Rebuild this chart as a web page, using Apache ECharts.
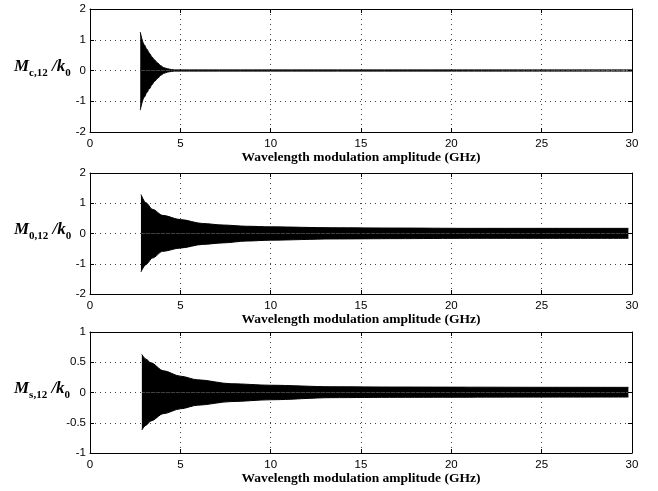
<!DOCTYPE html>
<html>
<head>
<meta charset="utf-8">
<script src="https://cdn.jsdelivr.net/npm/echarts@6/dist/echarts.min.js"></script>
<style>html,body{margin:0;padding:0;background:#fff}#c{width:658px;height:491px}</style>
</head>
<body>
<div id="c"></div>
<script>
// Envelope of the (densely oscillating) signals
const x1 = [2.78, 3.0, 3.14, 3.28, 3.42, 3.56, 3.75, 3.93, 4.1, 4.3, 4.5, 4.67, 5.5, 10, 20, 30];
const up1 = [1.25, 0.84, 0.70, 0.57, 0.45, 0.35, 0.24, 0.15, 0.09, 0.055, 0.03, 0.02, 0.02, 0.02, 0.02, 0.02];
const lo1 = [-1.29, -0.87, -0.72, -0.60, -0.47, -0.36, -0.25, -0.15, -0.09, -0.05, -0.03, -0.02, -0.02, -0.02, -0.02, -0.02];

const x2 = [2.82, 3.09, 3.46, 4.02, 5.0, 6.24, 7.36, 8.65, 10, 13.4, 17, 21, 25, 29.8];
const up2 = [1.29, 1.02, 0.80, 0.60, 0.46, 0.33, 0.28, 0.24, 0.22, 0.19, 0.18, 0.17, 0.17, 0.17];
const lo2 = [-1.27, -1.03, -0.81, -0.59, -0.48, -0.36, -0.31, -0.25, -0.22, -0.18, -0.17, -0.16, -0.16, -0.16];

const x3 = [2.87, 3.1, 3.37, 4.06, 5.0, 5.95, 7.8, 10, 13.4, 17, 21, 25, 29.8];
const up3 = [0.63, 0.55, 0.49, 0.36, 0.27, 0.21, 0.145, 0.12, 0.095, 0.09, 0.088, 0.086, 0.085];
const lo3 = [-0.62, -0.54, -0.47, -0.35, -0.27, -0.21, -0.15, -0.12, -0.085, -0.08, -0.078, -0.076, -0.075];

const xTicks = [0, 5, 10, 15, 20, 25, 30];
const yRanges = [[-2, 2, 1], [-2, 2, 1], [-1, 1, 0.5]];
const xTitle = 'Wavelength modulation amplitude (GHz)';
const yNames = [['M', 'c,12'], ['M', '0,12'], ['M', 's,12']];

const panels = [[x1, up1, lo1], [x2, up2, lo2], [x3, up3, lo3]];
const grids = [
  {left: 90, top: 9, width: 542, height: 123},
  {left: 90, top: 173, width: 542, height: 121},
  {left: 90, top: 332, width: 542, height: 121}
];

const gridLine = {show: true, lineStyle: {color: '#444', width: 1, type: [1, 4]}};
const labelFont = {color: '#000', fontFamily: 'Liberation Sans', fontSize: 11.5};

const xAxis = [], yAxis = [], series = [], graphic = [];
grids.forEach((g, i) => {
  xAxis.push({
    type: 'value', gridIndex: i, min: xTicks[0], max: xTicks[xTicks.length - 1], interval: 5,
    axisLine: {onZero: false, lineStyle: {color: '#000', width: 1}},
    axisTick: {inside: true, length: 4, lineStyle: {color: '#000'}},
    axisLabel: Object.assign({margin: 6}, labelFont),
    splitLine: gridLine,
    name: xTitle, nameLocation: 'middle', nameGap: 18,
    nameTextStyle: {fontFamily: 'Liberation Serif', fontWeight: 'bold', fontSize: 13.5, color: '#000', verticalAlign: 'top'}
  });
  xAxis.push({
    type: 'value', gridIndex: i, position: 'top', min: xTicks[0], max: xTicks[xTicks.length - 1], interval: 5,
    axisLine: {onZero: false, lineStyle: {color: '#000', width: 1}},
    axisTick: {inside: true, length: 4, lineStyle: {color: '#000'}},
    axisLabel: {show: false}, splitLine: {show: false}
  });
  const r = yRanges[i];
  yAxis.push({
    type: 'value', gridIndex: i, min: r[0], max: r[1], interval: r[2],
    axisLine: {onZero: false, lineStyle: {color: '#000', width: 1}},
    axisTick: {inside: true, length: 4, lineStyle: {color: '#000'}},
    axisLabel: Object.assign({margin: 4}, labelFont),
    splitLine: gridLine
  });
  yAxis.push({
    type: 'value', gridIndex: i, position: 'right', min: r[0], max: r[1], interval: r[2],
    axisLine: {onZero: false, lineStyle: {color: '#000', width: 1}},
    axisTick: {inside: true, length: 4, lineStyle: {color: '#000'}},
    axisLabel: {show: false}, splitLine: {show: false}
  });
  const [xs, up, lo] = panels[i];
  [up, lo].forEach(arr => {
    series.push({
      type: 'line', xAxisIndex: 2 * i, yAxisIndex: 2 * i,
      data: xs.map((x, k) => [x, arr[k]]),
      showSymbol: false, smooth: 0.3, smoothMonotone: 'x',
      lineStyle: {color: '#000', width: 1},
      areaStyle: {color: '#000', opacity: 1},
      silent: true, animation: false
    });
  });
  graphic.push({
    type: 'text', left: 14, top: g.top + g.height / 2 - 12,
    style: {
      text: '{m|' + yNames[i][0] + '}{s|' + yNames[i][1] + '}{m| /k}{s|0}',
      rich: {
        m: {fontFamily: 'Liberation Serif', fontStyle: 'italic', fontWeight: 'bold', fontSize: 17, lineHeight: 23, fill: '#000'},
        s: {fontFamily: 'Liberation Serif', fontWeight: 'bold', fontSize: 11, lineHeight: 15, verticalAlign: 'bottom', fill: '#000'}
      }
    }
  });
});

const chart = echarts.init(document.getElementById('c'));
chart.setOption({
  animation: false,
  backgroundColor: '#fff',
  grid: grids,
  xAxis, yAxis, series, graphic
});
</script>
</body>
</html>
